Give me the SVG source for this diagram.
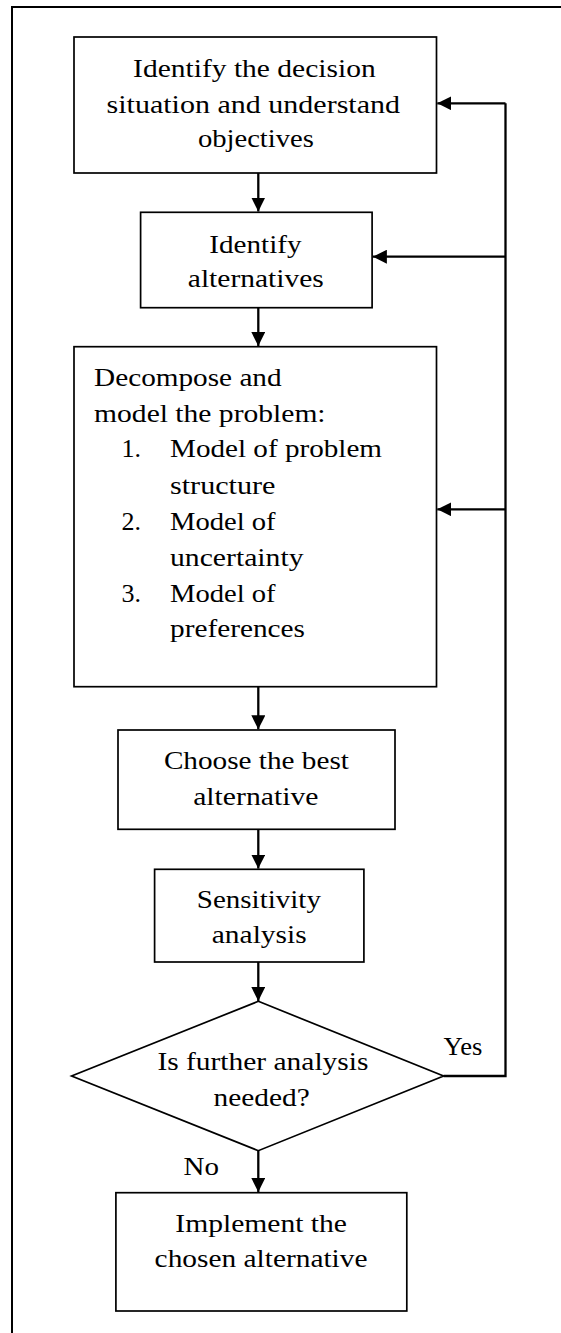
<svg xmlns="http://www.w3.org/2000/svg" width="561" height="1333" viewBox="0 0 561 1333">
<style>
.box{fill:#fff;stroke:#000;stroke-width:1.7}
.frame{fill:none;stroke:#000;stroke-width:2}
.c{fill:none;stroke:#000;stroke-width:2.3}
text{font-family:"Liberation Serif","Times New Roman",serif;font-size:26px;fill:#000}
</style>
<defs>
<marker id="ah" markerUnits="userSpaceOnUse" markerWidth="14" markerHeight="14" refX="14" refY="7" orient="auto">
<path d="M0,0 L14,7 L0,14 z" fill="#000"/>
</marker>
</defs>
<path class="frame" d="M561,7 H12 V1333"/>
<g id="n1">
<rect class="box" x="74" y="37" width="362.5" height="136"/>
<text x="133.1" y="77" textLength="242.6" lengthAdjust="spacingAndGlyphs">Identify the decision</text>
<text x="106.6" y="113" textLength="293.4" lengthAdjust="spacingAndGlyphs">situation and understand</text>
<text x="197.9" y="147" textLength="116" lengthAdjust="spacingAndGlyphs">objectives</text>
</g>
<g id="n2">
<rect class="box" x="140.6" y="212.3" width="231.5" height="95.4"/>
<text x="209.3" y="252.7" textLength="92.3" lengthAdjust="spacingAndGlyphs">Identify</text>
<text x="187.8" y="287.3" textLength="136" lengthAdjust="spacingAndGlyphs">alternatives</text>
</g>
<g id="n3">
<rect class="box" x="74" y="346.7" width="362.5" height="340"/>
<text x="94.1" y="385.7" textLength="187.5" lengthAdjust="spacingAndGlyphs">Decompose and</text>
<text x="94.1" y="421.7" textLength="231.5" lengthAdjust="spacingAndGlyphs">model the problem:</text>
<text x="121.6" y="457.3">1.</text>
<text x="170" y="457.3" textLength="212" lengthAdjust="spacingAndGlyphs">Model of problem</text>
<text x="170" y="494" textLength="105.5" lengthAdjust="spacingAndGlyphs">structure</text>
<text x="121.6" y="530">2.</text>
<text x="170" y="530" textLength="105.5" lengthAdjust="spacingAndGlyphs">Model of</text>
<text x="170" y="566" textLength="133.5" lengthAdjust="spacingAndGlyphs">uncertainty</text>
<text x="121.6" y="601.7">3.</text>
<text x="170" y="601.7" textLength="105.5" lengthAdjust="spacingAndGlyphs">Model of</text>
<text x="170" y="636.7" textLength="135" lengthAdjust="spacingAndGlyphs">preferences</text>
</g>
<g id="n4">
<rect class="box" x="118" y="730" width="277" height="99.3"/>
<text x="163.9" y="769.3" textLength="185" lengthAdjust="spacingAndGlyphs">Choose the best</text>
<text x="193.2" y="805" textLength="125.2" lengthAdjust="spacingAndGlyphs">alternative</text>
</g>
<g id="n5">
<rect class="box" x="154.6" y="869.3" width="209.3" height="92.7"/>
<text x="196.8" y="908.3" textLength="124.1" lengthAdjust="spacingAndGlyphs">Sensitivity</text>
<text x="211.8" y="943.3" textLength="94.8" lengthAdjust="spacingAndGlyphs">analysis</text>
</g>
<g id="n6">
<polygon class="box" points="258.3,1001.3 443.6,1076 258.3,1150.7 71.6,1076"/>
<text x="157.4" y="1070" textLength="211" lengthAdjust="spacingAndGlyphs">Is further analysis</text>
<text x="213.6" y="1105.7" textLength="96.2" lengthAdjust="spacingAndGlyphs">needed?</text>
</g>
<g id="n7">
<rect class="box" x="115.9" y="1192.7" width="290.9" height="118.3"/>
<text x="175.3" y="1231.7" textLength="171.7" lengthAdjust="spacingAndGlyphs">Implement the</text>
<text x="154.6" y="1266.7" textLength="212.9" lengthAdjust="spacingAndGlyphs">chosen alternative</text>
</g>
<g id="connectors">
<line class="c" x1="258.3" y1="173" x2="258.3" y2="211.5" marker-end="url(#ah)"/>
<line class="c" x1="258.3" y1="307.7" x2="258.3" y2="346" marker-end="url(#ah)"/>
<line class="c" x1="258.3" y1="686.7" x2="258.3" y2="729.3" marker-end="url(#ah)"/>
<line class="c" x1="258.3" y1="829.3" x2="258.3" y2="868.6" marker-end="url(#ah)"/>
<line class="c" x1="258.3" y1="962" x2="258.3" y2="1001" marker-end="url(#ah)"/>
<line class="c" x1="258.3" y1="1150.7" x2="258.3" y2="1192" marker-end="url(#ah)"/>
<polyline class="c" points="443.6,1076 505.5,1076 505.5,103.3"/>
<line class="c" x1="505.5" y1="103.3" x2="437.3" y2="103.3" marker-end="url(#ah)"/>
<line class="c" x1="505.5" y1="256.7" x2="372.9" y2="256.7" marker-end="url(#ah)"/>
<line class="c" x1="505.5" y1="509.3" x2="437.3" y2="509.3" marker-end="url(#ah)"/>
<text x="443.6" y="1055" textLength="38.7" lengthAdjust="spacingAndGlyphs">Yes</text>
<text x="183.5" y="1175" textLength="35.4" lengthAdjust="spacingAndGlyphs">No</text>
</g>
</svg>
